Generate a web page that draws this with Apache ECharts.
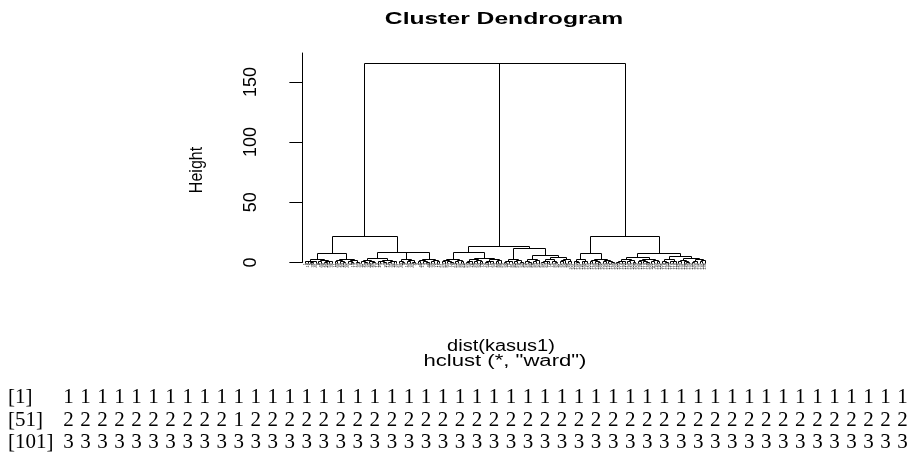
<!DOCTYPE html>
<html>
<head>
<meta charset="utf-8">
<script src="https://cdn.jsdelivr.net/npm/echarts@6/dist/echarts.min.js"></script>
<style>
html,body{margin:0;padding:0;background:#fff;}
#chart{width:913px;height:453px;}
</style>
</head>
<body>
<div id="chart"></div>
<script>
// ---------- data ----------
const titleText = 'Cluster Dendrogram';
const xLabelLines = ['dist(kasus1)', 'hclust (*, "ward")'];
const yName = 'Height';
const yTicks = [0, 50, 100, 150];
// top merges: root height, height of merge between cluster 2 and cluster 3
const topHeights = [166.0, 165.3];
// sub-trees: [height, left, right]; a plain number is an observation (leaf)
const cluster1 = [22.0,
  [7.7,
    [2.6, [1.6, [0.9, 1, 18], [1.2, [0.5, 5, 38], 41]], [2.0, [1.1, 8, 40], [1.4, [0.7, 28, 29], [0.9, 50, 36]]]],
    [3.0, [1.8, [1.0, 11, 49], [1.3, 20, [0.6, 22, 47]]], [2.2, [1.2, 45, [0.5, 6, 19]], [0.8, 17, 33]]]],
  [9.0,
    [3.5, [2.1, [1.2, 37, [0.6, 21, 32]], [1.5, 44, [0.8, 24, 27]]], [2.4, [1.6, [0.9, 12, 25], [0.7, 7, 23]], [1.3, [0.4, 10, 35], [1.0, 26, 31]]]],
    [8.5,
      [2.8, [1.4, 61, [0.8, 42, 9]], [1.7, [1.0, 14, 39], [0.6, 43, 4]]],
      [3.2, [1.9, [1.1, 2, 46], [0.9, 13, [0.5, 3, 48]]], [2.3, [1.3, 30, 34], [1.5, 15, 16]]]]]];
const cluster2 = [14.0,
  [9.0,
    [3.0, [1.8, [0.9, 51, 53], [1.2, 87, [0.6, 77, 78]]], [2.1, [1.0, 52, 57], [1.4, 86, 66]]],
    [4.0, [2.6, [1.5, [0.8, 55, 59], 76], [1.9, [0.9, 98, 64], [1.2, 92, 79]]], [2.9, [1.6, [0.7, 74, 56], [1.0, 71, 69]], [2.0, [1.3, 73, 84], 88]]]],
  [11.8,
    [2.5, [1.4, [0.8, 54, 90], [1.0, 70, 81]], [1.7, [0.9, 82, 60], [0.6, 58, 94]]],
    [6.25,
      [3.0, [1.5, 62, [0.7, 65, 80]], [1.8, [1.0, 68, 83], 93]],
      [4.5, [2.7, [1.5, [0.8, 67, 85], [1.1, 63, 72]], [1.3, 75, [0.6, 89, 97]]], [3.1, [1.9, [1.0, 91, 95], 99], [1.2, 96, 100]]]]]];
const cluster3 = [22.3,
  [7.7,
    [2.5, [1.3, 101, [0.7, 137, 145]], [1.6, [0.9, 121, 144], 125]],
    [3.3, [2.0, [1.1, 103, 113], [1.4, 140, [0.6, 142, 146]]], [2.4, [1.2, 105, 129], [1.5, 133, [0.8, 116, 149]]]]],
  [8.0,
    [4.3,
      [2.6, [1.5, [0.8, 102, 143], [1.0, 114, 122]], [1.8, [1.1, 115, 120], [0.7, 107, 108]]],
      [3.1, [1.7, [0.9, 104, 138], [1.2, 117, [0.5, 112, 148]]], [2.0, [1.3, 109, 111], [0.9, 124, 127]]]],
    [5.4,
      [2.9, [1.4, 106, [0.8, 118, 132]], [1.6, [1.0, 123, 119], 110]],
      [3.6, [2.2, [1.2, 126, 130], [1.5, 131, [0.6, 128, 139]]], [2.5, [1.4, [0.7, 134, 147], 150], [1.7, [0.9, 135, 141], 136]]]]]];
// cutree output rows
const rowPrefixes = ['[1]', '[51]', '[101]'];
const cutRow1 = [1,1,1,1,1,1,1,1,1,1,1,1,1,1,1,1,1,1,1,1,1,1,1,1,1,1,1,1,1,1,1,1,1,1,1,1,1,1,1,1,1,1,1,1,1,1,1,1,1,1];
const cutRow2 = [2,2,2,2,2,2,2,2,2,2,1,2,2,2,2,2,2,2,2,2,2,2,2,2,2,2,2,2,2,2,2,2,2,2,2,2,2,2,2,2,2,2,2,2,2,2,2,2,2,2];
const cutRow3 = [3,3,3,3,3,3,3,3,3,3,3,3,3,3,3,3,3,3,3,3,3,3,3,3,3,3,3,3,3,3,3,3,3,3,3,3,3,3,3,3,3,3,3,3,3,3,3,3,3,3];

// ---------- layout of the tree (leaf order, merge midpoints) ----------
const tree = [topHeights[0], cluster1, [topHeights[1], cluster2, cluster3]];
let leafCounter = 0;
const segs = [];
const leafLabels = [];
function layout(node) {
  if (typeof node === 'number') {
    leafCounter++;
    leafLabels.push([leafCounter, node]);
    return { x: leafCounter, h: 0 };
  }
  const h = node[0];
  const A = layout(node[1]);
  const B = layout(node[2]);
  segs.push([A.x, h, B.x, h]);
  segs.push([A.x, A.h, A.x, h]);
  segs.push([B.x, B.h, B.x, h]);
  return { x: (A.x + B.x) / 2, h: h };
}
layout(tree);

const crisp = v => Math.round(v) + 0.5;

// ---------- graphic texts ----------
const graphics = [];
graphics.push({ type: 'text', x: 504, y: 19, scaleX: 1.45,
  style: { text: titleText, x: 0, y: 0, textAlign: 'center', textVerticalAlign: 'middle',
    font: 'bold 17px "Liberation Sans", Arial, sans-serif', fill: '#000' } });
graphics.push({ type: 'text', x: 501, y: 347, scaleX: 1.25,
  style: { text: xLabelLines[0], x: 0, y: 0, textAlign: 'center', textVerticalAlign: 'middle',
    font: '16px "Liberation Sans", Arial, sans-serif', fill: '#000' } });
graphics.push({ type: 'text', x: 505, y: 362, scaleX: 1.38,
  style: { text: xLabelLines[1], x: 0, y: 0, textAlign: 'center', textVerticalAlign: 'middle',
    font: '16px "Liberation Sans", Arial, sans-serif', fill: '#000' } });
graphics.push({ type: 'text', x: 197, y: 170, rotation: Math.PI / 2, scaleY: 1.15,
  style: { text: yName, x: 0, y: 0, textAlign: 'center', textVerticalAlign: 'middle',
    font: '16px "Liberation Sans", Arial, sans-serif', fill: '#000' } });
const rows = [cutRow1, cutRow2, cutRow3];
const rowY = [397.5, 420, 442];
rows.forEach((row, r) => {
  graphics.push({ type: 'text', x: 8, y: rowY[r],
    style: { text: rowPrefixes[r], x: 0, y: 0, textAlign: 'left', textVerticalAlign: 'middle',
      font: '21px "Liberation Serif", "Times New Roman", serif', fill: '#000' } });
  row.forEach((v, i) => {
    graphics.push({ type: 'text', x: 68.5 + i * 17.02, y: rowY[r],
      style: { text: String(v), x: 0, y: 0, textAlign: 'center', textVerticalAlign: 'middle',
        font: '21px "Liberation Serif", "Times New Roman", serif', fill: '#000' } });
  });
});

// ---------- chart ----------
const chart = echarts.init(document.getElementById('chart'), null, { renderer: 'canvas' });
chart.setOption({
  animation: false,
  backgroundColor: '#fff',
  grid: { left: 290, right: 193.4, top: 53, bottom: 190.5, containLabel: false },
  xAxis: { type: 'value', min: -4.6, max: 155.4, show: false },
  yAxis: {
    type: 'value', min: 0, max: 174, position: 'left',
    axisLine: { show: true, lineStyle: { color: '#000', width: 1 } },
    axisTick: { show: true, length: 13, inside: false, lineStyle: { color: '#000', width: 1 }, customValues: yTicks },
    axisLabel: { show: true, rotate: 90, margin: 30, fontSize: 18, color: '#000',
      fontFamily: '"Liberation Sans", Arial, sans-serif', customValues: yTicks },
    splitLine: { show: false }
  },
  series: [
    {
      type: 'custom',
      data: segs,
      dimensions: ['x1', 'y1', 'x2', 'y2'],
      encode: { x: [0, 2], y: [1, 3] },
      clip: false,
      renderItem: function (params, api) {
        const p1 = api.coord([api.value(0), api.value(1)]);
        const p2 = api.coord([api.value(2), api.value(3)]);
        return { type: 'line',
          shape: { x1: crisp(p1[0]), y1: crisp(p1[1]), x2: crisp(p2[0]), y2: crisp(p2[1]) },
          style: { stroke: '#000', lineWidth: 1 } };
      }
    },
    {
      type: 'custom',
      data: leafLabels,
      dimensions: ['pos', 'obs'],
      encode: { x: 0 },
      clip: false,
      renderItem: function (params, api) {
        const p = api.coord([api.value(0), 0]);
        return { type: 'text', x: p[0], y: p[1] + 0.5, rotation: Math.PI / 2,
          style: { text: String(api.value(1)), x: 0, y: 0, align: 'right', verticalAlign: 'middle',
            fontSize: 4, fontFamily: '"Liberation Sans", Arial, sans-serif', fill: '#000' } };
      }
    }
  ],
  graphic: { elements: graphics }
});
</script>
</body>
</html>
